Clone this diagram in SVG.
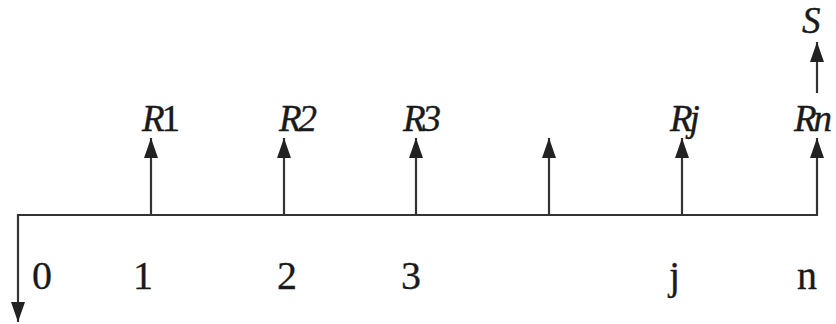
<svg xmlns="http://www.w3.org/2000/svg" width="836" height="324" viewBox="0 0 836 324">
<style>
.ln{stroke:#333;stroke-width:2.2;fill:none}
.ah{fill:#222}
.lbl{font-family:'Liberation Serif','Times New Roman',Times,serif;font-size:37px;fill:#1a1a1a;font-style:italic;letter-spacing:-3px;stroke:#1a1a1a;stroke-width:0.4}
.num{font-family:'Liberation Serif','Times New Roman',Times,serif;font-size:40px;fill:#1a1a1a;stroke:#1a1a1a;stroke-width:0.3}
</style>
<defs>
<marker id="up" markerUnits="userSpaceOnUse" markerWidth="16" markerHeight="22" viewBox="0 0 16 22" refX="8" refY="0" orient="0">
<path d="M8 0 L15 20 L1 20 Z" class="ah"/>
</marker>
<marker id="down" markerUnits="userSpaceOnUse" markerWidth="16" markerHeight="22" viewBox="0 0 16 22" refX="8" refY="22" orient="0">
<path d="M8 22 L15 2 L1 2 Z" class="ah"/>
</marker>
</defs>
<g id="connectors">
<line id="axis" class="ln" x1="17" y1="215" x2="818" y2="215"/>
<line class="ln" x1="18" y1="214" x2="18" y2="322" marker-end="url(#down)"/>
<line class="ln" x1="151" y1="215" x2="151" y2="138" marker-end="url(#up)"/>
<line class="ln" x1="284" y1="215" x2="284" y2="138" marker-end="url(#up)"/>
<line class="ln" x1="416" y1="215" x2="416" y2="138" marker-end="url(#up)"/>
<line class="ln" x1="549" y1="215" x2="549" y2="138" marker-end="url(#up)"/>
<line class="ln" x1="682" y1="215" x2="682" y2="138" marker-end="url(#up)"/>
<line class="ln" x1="817" y1="215" x2="817" y2="138" marker-end="url(#up)"/>
<line class="ln" x1="817" y1="93" x2="817" y2="42" marker-end="url(#up)"/>
</g>
<g id="labels-top">
<g id="R1"><text class="lbl" x="142" y="131">R<tspan font-style="normal">1</tspan></text></g>
<g id="R2"><text class="lbl" x="279" y="131">R2</text></g>
<g id="R3"><text class="lbl" x="403" y="131">R3</text></g>
<g id="Rj"><text class="lbl" x="670" y="131">Rj</text></g>
<g id="Rn"><text class="lbl" x="794" y="131">Rn</text></g>
<g id="S"><text class="lbl" x="802" y="33">S</text></g>
</g>
<g id="labels-bottom">
<text class="num" x="32" y="289">0</text>
<text class="num" x="133" y="289">1</text>
<text class="num" x="277" y="289">2</text>
<text class="num" x="401" y="289">3</text>
<text class="num" x="669" y="289">j</text>
<text class="num" x="797" y="289">n</text>
</g>
</svg>
